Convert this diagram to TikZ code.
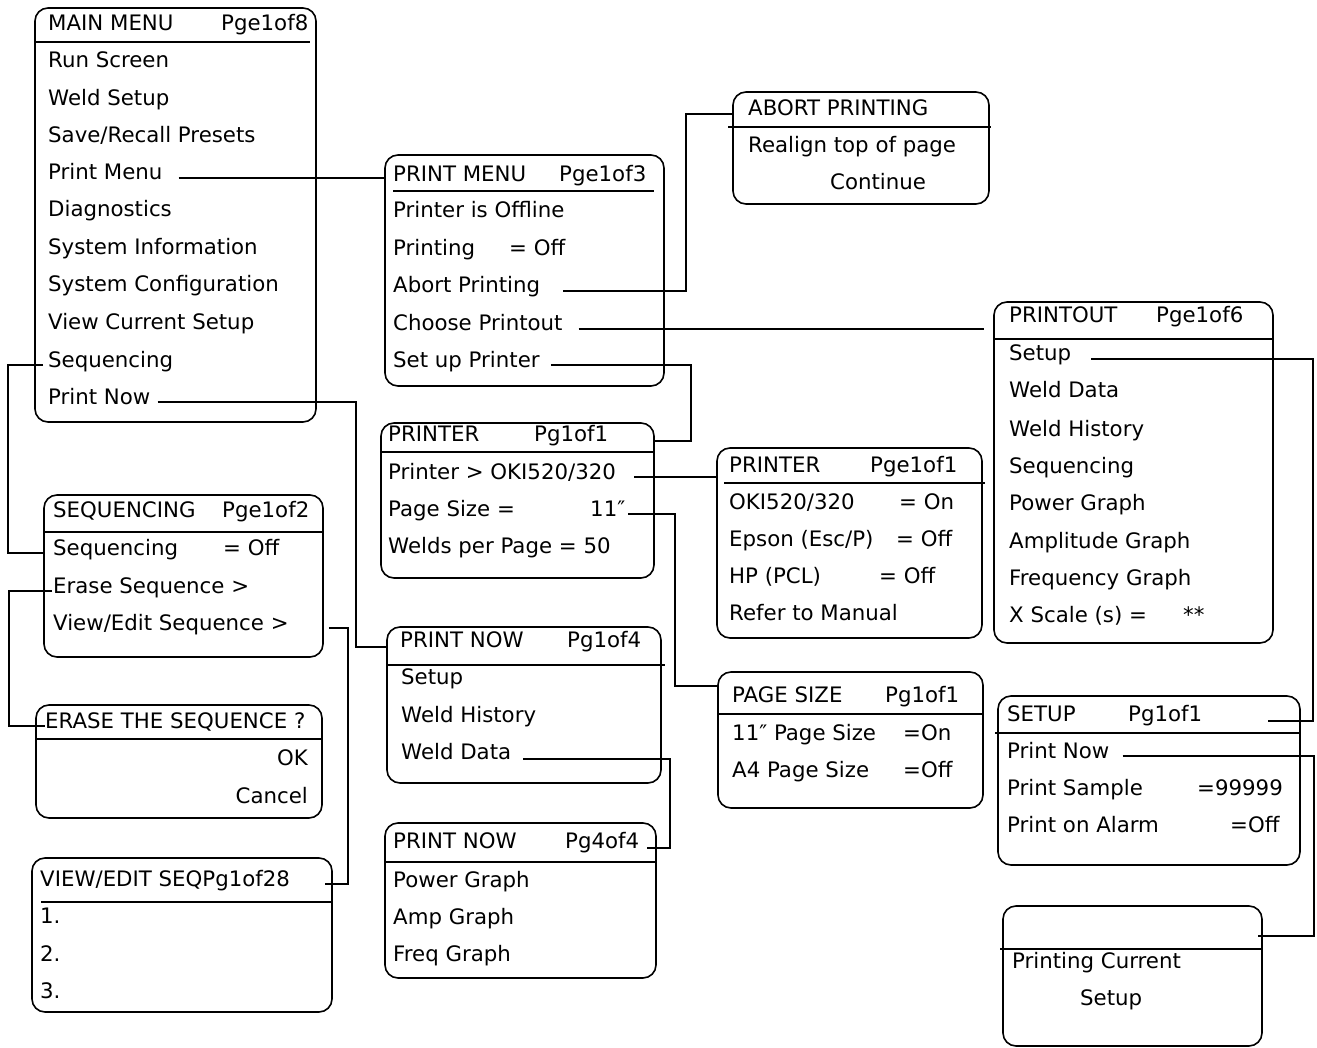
\documentclass[tikz,border=0pt]{standalone}
\usepackage{fontspec}
\newfontfamily\menufont{DejaVu Sans}
\usetikzlibrary{fit}

\begin{document}
\begin{tikzpicture}[x=1pt, y=-1pt,
    menu/.style={draw, line width=1.6pt, rounded corners=13pt, inner sep=0pt},
    item/.style={anchor=base west, inner sep=0pt, font={\menufont\fontsize{21.3}{25}\selectfont}},
    ritem/.style={item, anchor=base east},
    divider/.style={line width=1.6pt},
    link/.style={line width=1.6pt, shorten <=#1}, link/.default=0pt]
    \useasboundingbox (0,0) rectangle (1317,1048);

    % main menu
    \node[menu, fit={(35,8) (316,422)}] (mainMenu) {};
    \draw[divider] (36,42) -- (310,42);
    \node[item] (mmTitle) at (48,31) {MAIN MENU};
    \node[item] (mmPage) at (221,31) {Pge1of8};
    \node[item] (mmRun) at (48,68) {Run Screen};
    \node[item] (mmWeld) at (48,106) {Weld Setup};
    \node[item] (mmSave) at (48,143) {Save/Recall Presets};
    \node[item] (mmPrint) at (48,180) {Print Menu};
    \node[item] (mmDiag) at (48,217) {Diagnostics};
    \node[item] (mmInfo) at (48,255) {System Information};
    \node[item] (mmConfig) at (48,292) {System Configuration};
    \node[item] (mmView) at (48,330) {View Current Setup};
    \node[item] (mmSeq) at (48,367) {Sequencing};
    \node[item] (mmPrintNow) at (48,404) {Print Now};

    % print menu
    \node[menu, fit={(385,155) (664,386)}] (printMenu) {};
    \draw[divider] (393,191) -- (654,191);
    \node[item] (pmTitle) at (393,182) {PRINT MENU};
    \node[item] (pmPage) at (559,182) {Pge1of3};
    \node[item] (pmOffline) at (393,218) {Printer is Offline};
    \node[item] (pmPrinting) at (393,256) {Printing};
    \node[item] (pmPrintingVal) at (509,256) {= Off};
    \node[item] (pmAbort) at (393,293) {Abort Printing};
    \node[item] (pmChoose) at (393,331) {Choose Printout};
    \node[item] (pmSetup) at (393,367) {Set up Printer};

    % abort printing
    \node[menu, fit={(733,92) (989,204)}] (abortBox) {};
    \draw[divider] (728,127) -- (991,127);
    \node[item] (abTitle) at (748,116) {ABORT PRINTING};
    \node[item] (abRealign) at (748,153) {Realign top of page};
    \node[item] (abContinue) at (830,190) {Continue};

    % printout
    \node[menu, fit={(994,302) (1273,643)}] (printout) {};
    \draw[divider] (995,339) -- (1272,339);
    \node[item] (poTitle) at (1009,323) {PRINTOUT};
    \node[item] (poPage) at (1156,323) {Pge1of6};
    \node[item] (poSetup) at (1009,361) {Setup};
    \node[item] (poData) at (1009,398) {Weld Data};
    \node[item] (poHist) at (1009,436) {Weld History};
    \node[item] (poSeq) at (1009,473) {Sequencing};
    \node[item] (poPower) at (1009,510) {Power Graph};
    \node[item] (poAmp) at (1009,548) {Amplitude Graph};
    \node[item] (poFreq) at (1009,585) {Frequency Graph};
    \node[item] (poScale) at (1009,622) {X Scale (s) =};
    \node[item] (poScaleVal) at (1183,622) {**};

    % printer, page 1 of 1
    \node[menu, fit={(381,423) (654,578)}] (printerA) {};
    \draw[divider] (381,452) -- (654,452);
    \node[item] (prATitle) at (388,441) {PRINTER};
    \node[item] (prAPage) at (534,441) {Pg1of1};
    \node[item] (prAOki) at (388,479) {Printer > OKI520/320};
    \node[item] (prASize) at (388,516) {Page Size =};
    \node[item] (prA11) at (590,516) {11″};
    \node[item] (prAWelds) at (388,553) {Welds per Page = 50};

    % printer type
    \node[menu, fit={(717,448) (982,638)}] (printerB) {};
    \draw[divider] (724,483) -- (985,483);
    \node[item] (prBTitle) at (729,472) {PRINTER};
    \node[item] (prBPage) at (870,472) {Pge1of1};
    \node[item] (prBOki) at (729,509) {OKI520/320};
    \node[item] (prBOkiVal) at (899,509) {= On};
    \node[item] (prBEpson) at (729,546) {Epson (Esc/P)};
    \node[item] (prBEpsonVal) at (896,546) {= Off};
    \node[item] (prBHp) at (729,583) {HP (PCL)};
    \node[item] (prBHpVal) at (879,583) {= Off};
    \node[item] (prBRefer) at (729,620) {Refer to Manual};

    % page size
    \node[menu, fit={(718,672) (983,808)}] (pageSize) {};
    \draw[divider] (718,714) -- (983,714);
    \node[item] (psTitle) at (732,702) {PAGE SIZE};
    \node[item] (psPage) at (885,702) {Pg1of1};
    \node[item] (ps11) at (732,740) {11″ Page Size};
    \node[item] (ps11Val) at (903,740) {=On};
    \node[item] (psA4) at (732,777) {A4 Page Size};
    \node[item] (psA4Val) at (903,777) {=Off};

    % print now, pages 1 and 4
    \node[menu, fit={(387,627) (661,783)}] (printNowA) {};
    \draw[divider] (387,665) -- (665,665);
    \node[item] (pnATitle) at (400,647) {PRINT NOW};
    \node[item] (pnAPage) at (567,647) {Pg1of4};
    \node[item] (pnASetup) at (401,684) {Setup};
    \node[item] (pnAHist) at (401,722) {Weld History};
    \node[item] (pnAData) at (401,759) {Weld Data};

    \node[menu, fit={(385,823) (656,978)}] (printNowB) {};
    \draw[divider] (385,862) -- (656,862);
    \node[item] (pnBTitle) at (393,848) {PRINT NOW};
    \node[item] (pnBPage) at (565,848) {Pg4of4};
    \node[item] (pnBPower) at (393,887) {Power Graph};
    \node[item] (pnBAmp) at (393,924) {Amp Graph};
    \node[item] (pnBFreq) at (393,961) {Freq Graph};

    % sequencing
    \node[menu, fit={(44,495) (323,657)}] (seqBox) {};
    \draw[divider] (44,532) -- (323,532);
    \node[item] (sqTitle) at (53,517) {SEQUENCING};
    \node[item] (sqPage) at (222,517) {Pge1of2};
    \node[item] (sqSeq) at (53,555) {Sequencing};
    \node[item] (sqSeqVal) at (223,555) {= Off};
    \node[item] (sqErase) at (53,593) {Erase Sequence >};
    \node[item] (sqView) at (53,630) {View/Edit Sequence >};

    \node[menu, fit={(36,705) (322,818)}] (eraseBox) {};
    \draw[divider] (36,739) -- (322,739);
    \node[item] (esTitle) at (45,728) {ERASE THE SEQUENCE ?};
    \node[ritem] (esOk) at (308,765) {OK};
    \node[ritem] (esCancel) at (308,803) {Cancel};

    \node[menu, fit={(32,858) (332,1012)}] (veBox) {};
    \draw[divider] (41,902) -- (332,902);
    \node[item] (veTitle) at (40,886) {VIEW/EDIT SEQPg1of28};
    \node[item] (ve1) at (40,923) {1.};
    \node[item] (ve2) at (40,961) {2.};
    \node[item] (ve3) at (40,998) {3.};

    % setup
    \node[menu, fit={(998,696) (1300,865)}] (setupBox) {};
    \draw[divider] (995,733) -- (1300,733);
    \node[item] (suTitle) at (1007,721) {SETUP};
    \node[item] (suPage) at (1128,721) {Pg1of1};
    \node[item] (suPrint) at (1007,758) {Print Now};
    \node[item] (suSample) at (1007,795) {Print Sample};
    \node[item] (suSampleVal) at (1197,795) {=99999};
    \node[item] (suAlarm) at (1007,832) {Print on Alarm};
    \node[item] (suAlarmVal) at (1230,832) {=Off};

    \node[menu, fit={(1003,906) (1262,1046)}] (printingBox) {};
    \draw[divider] (1000,949) -- (1262,949);
    \node[item] (pgCurrent) at (1012,968) {Printing Current};
    \node[item] (pgSetup) at (1080,1005) {Setup};

    % links
    \draw[link=16pt] (mmPrint.mid east) -- (mmPrint.mid east -| printMenu.west);
    \draw[link=7pt] (mmPrintNow.mid east) -| ([xshift=-30pt]printNowA.west |- pnATitle.base) -- (pnATitle.base -| printNowA.west);
    \draw[link=5pt] (mmSeq.mid west) -| ([xshift=-35pt]seqBox.west |- sqSeq.mid) -- (sqSeq.mid -| seqBox.west);
    \draw[link=1pt] (sqErase.mid west) -| ([xshift=-26pt]eraseBox.west |- esTitle.mid) -- (esTitle.mid west);
    \draw[link=5pt] (sqView.mid -| seqBox.east) -| ([xshift=15pt]veBox.east |- veTitle.mid) -- ([xshift=-8pt]veBox.east |- veTitle.mid);
    \draw[link=23pt] (pmAbort.mid east) -| ([xshift=-46pt]abortBox.west |- abTitle.mid) -- (abTitle.mid -| abortBox.west);
    \draw[link=16pt, shorten >=9pt] (pmChoose.mid east) -- (pmChoose.mid east -| printout.west);
    \draw[link=11pt] (pmSetup.mid east) -| ([xshift=36pt]printerA.east |- prAPage.base) -- (prAPage.base -| printerA.east);
    \draw[link=18pt] (prAOki.mid east) -- (prAOki.mid east -| printerB.west);
    \draw[link=3pt] (prA11.mid east) -| ([xshift=-42pt]pageSize.west |- psTitle.north) -- (psTitle.north -| pageSize.west);
    \draw[link=12pt] (pnAData.base east) -| ([xshift=8pt]printNowA.east |- pnBPage.base) -- ([xshift=-10pt]printNowB.east |- pnBPage.base);
    \draw[link=20pt] (poSetup.mid east) -| ([xshift=39pt]printout.east |- suTitle.base) -- ([xshift=-33pt]setupBox.east |- suTitle.base);
    \draw[link=13pt] (suPrint.mid east) -| ([xshift=51pt, yshift=-31pt]printingBox.north east) -- ([xshift=-5pt, yshift=-31pt]printingBox.north east);
\end{tikzpicture}
\end{document}
